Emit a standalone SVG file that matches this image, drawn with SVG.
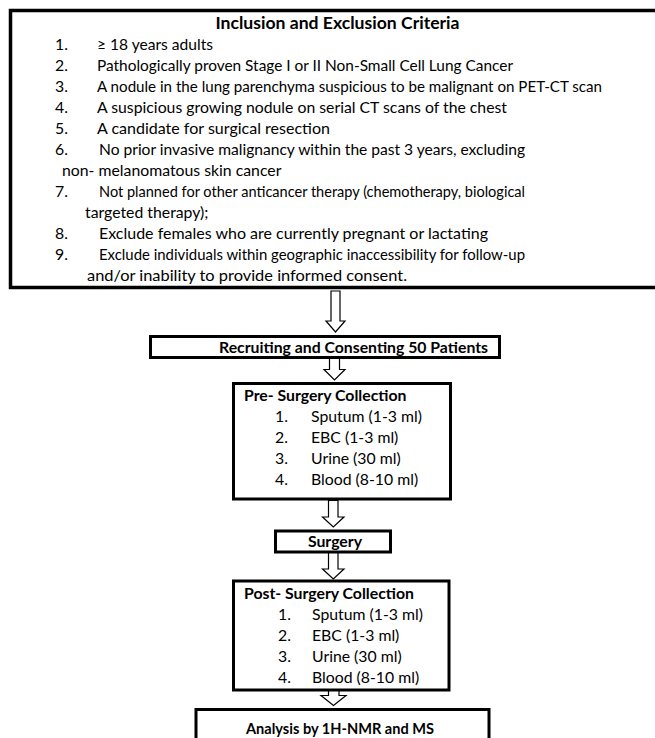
<svg xmlns="http://www.w3.org/2000/svg" width="655" height="738" viewBox="0 0 655 738">
<style>
  text { font-family: Lato, "Liberation Sans", sans-serif; fill: #000; }
  .t { font-size: 15.8px; }
  .b { font-size: 15.8px; font-weight: bold; }
  .h { font-size: 17.6px; font-weight: bold; }
  .box { fill: #fff; stroke: #000; stroke-width: 3; }
  .big { fill: #fff; stroke: #000; stroke-width: 3.5; }
  .arr { fill: #fff; stroke: #000; stroke-width: 1.2; stroke-linejoin: miter; }
</style>
<rect width="655" height="738" fill="#fff"/>

<g id="criteria">
  <rect class="big" x="10.5" y="10.5" width="700" height="277"/>
  <text class="h" x="337.5" y="29" text-anchor="middle">Inclusion and Exclusion Criteria</text>
  <text class="t" x="55" y="50">1.</text><text class="t" x="97" y="50" textLength="116" lengthAdjust="spacingAndGlyphs">≥ 18 years adults</text>
  <text class="t" x="55" y="71">2.</text><text class="t" x="97" y="71" textLength="416" lengthAdjust="spacingAndGlyphs">Pathologically proven Stage I or II Non-Small Cell Lung Cancer</text>
  <text class="t" x="55" y="92">3.</text><text class="t" x="97" y="92" textLength="505" lengthAdjust="spacingAndGlyphs">A nodule in the lung parenchyma suspicious to be malignant on PET-CT scan</text>
  <text class="t" x="55" y="113">4.</text><text class="t" x="97" y="113" textLength="410" lengthAdjust="spacingAndGlyphs">A suspicious growing nodule on serial CT scans of the chest</text>
  <text class="t" x="55" y="134">5.</text><text class="t" x="97" y="134" textLength="233" lengthAdjust="spacingAndGlyphs">A candidate for surgical resection</text>
  <text class="t" x="55" y="155">6.</text><text class="t" x="99" y="155" textLength="426" lengthAdjust="spacingAndGlyphs">No prior invasive malignancy within the past 3 years, excluding</text>
  <text class="t" x="62" y="176">non- melanomatous skin cancer</text>
  <text class="t" x="55" y="197">7.</text><text class="t" x="99" y="197" textLength="426" lengthAdjust="spacingAndGlyphs">Not planned for other anticancer therapy (chemotherapy, biological</text>
  <text class="t" x="85" y="218">targeted therapy);</text>
  <text class="t" x="55" y="239">8.</text><text class="t" x="99" y="239" textLength="389" lengthAdjust="spacingAndGlyphs">Exclude females who are currently pregnant or lactating</text>
  <text class="t" x="55" y="260">9.</text><text class="t" x="99" y="260" textLength="426" lengthAdjust="spacingAndGlyphs">Exclude individuals within geographic inaccessibility for follow-up</text>
  <text class="t" x="87" y="281" textLength="320" lengthAdjust="spacingAndGlyphs">and/or inability to provide informed consent.</text>
</g>

<g id="recruit">
  <rect class="box" x="150.5" y="336.5" width="349" height="21"/>
  <text class="b" x="219" y="353">Recruiting and Consenting 50 Patients</text>
</g>

<g id="pre">
  <rect class="box" x="233.5" y="383.5" width="217" height="115.5"/>
  <text class="b" x="244" y="401">Pre- Surgery Collection</text>
  <text class="t" x="275" y="422">1.</text><text class="t" x="311" y="422">Sputum (1-3 ml)</text>
  <text class="t" x="275" y="443">2.</text><text class="t" x="311" y="443">EBC (1-3 ml)</text>
  <text class="t" x="275" y="464">3.</text><text class="t" x="311" y="464">Urine (30 ml)</text>
  <text class="t" x="275" y="485">4.</text><text class="t" x="311" y="485">Blood (8-10 ml)</text>
</g>

<g id="surgery">
  <rect class="box" x="275.5" y="531" width="115" height="21"/>
  <text class="b" x="335" y="547" text-anchor="middle">Surgery</text>
</g>

<g id="post">
  <rect class="box" x="233.5" y="581" width="215.5" height="109"/>
  <text class="b" x="244" y="599">Post- Surgery Collection</text>
  <text class="t" x="278" y="620">1.</text><text class="t" x="312" y="620">Sputum (1-3 ml)</text>
  <text class="t" x="278" y="641">2.</text><text class="t" x="312" y="641">EBC (1-3 ml)</text>
  <text class="t" x="278" y="662">3.</text><text class="t" x="312" y="662">Urine (30 ml)</text>
  <text class="t" x="278" y="683">4.</text><text class="t" x="312" y="683">Blood (8-10 ml)</text>
</g>

<g id="analysis">
  <rect class="box" x="196" y="709.5" width="293" height="60"/>
  <text class="b" x="246" y="734" textLength="188" lengthAdjust="spacingAndGlyphs">Analysis by 1H-NMR and MS</text>
</g>

<g id="connectors">
  <polygon class="arr" points="331,291 340,291 340,321 345,321 335.5,332 326,321 331,321"/>
  <polygon class="arr" points="329.5,358.5 339.5,358.5 339.5,369.5 345,369.5 334.5,380 324,369.5 329.5,369.5"/>
  <polygon class="arr" points="328.5,500.5 338,500.5 338,517 344,517 333.3,527 322.5,517 328.5,517"/>
  <polygon class="arr" points="328.5,553 338,553 338,569 344,569 333.3,579 322.5,569 328.5,569"/>
  <polygon class="arr" points="328.5,691 339,691 339,695.5 346,695.5 333.5,705.5 321,695.5 328.5,695.5"/>
</g>
</svg>
